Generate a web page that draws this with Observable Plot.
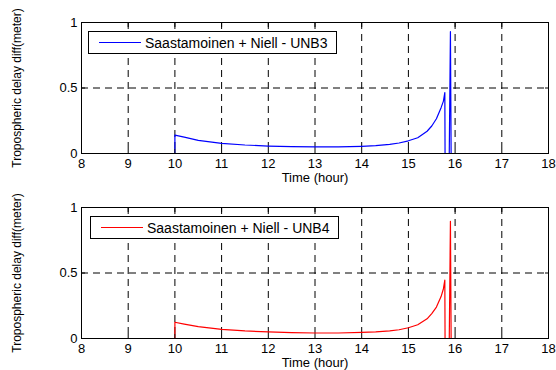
<!DOCTYPE html>
<html><head><meta charset="utf-8">
<script src="https://cdn.jsdelivr.net/npm/d3@7"></script>
<script src="https://cdn.jsdelivr.net/npm/@observablehq/plot@0.6"></script>
<style>
body{margin:0;background:#fff;font-family:"Liberation Sans",Arial,sans-serif;}
#wrap{width:556px;height:370px;position:relative;overflow:hidden;}
.panel{position:relative;width:556px;height:185px;}
.panel svg{display:block;}
.legend{position:absolute;box-sizing:border-box;border:1px solid #000;background:#fff;display:flex;align-items:center;font-size:14px;white-space:nowrap;color:#000;}
.legend .sample{display:inline-block;width:42px;height:0;border-top:1px solid;margin:0 4px 0 10px;}
</style></head><body><div id="wrap"></div>
<script>
// time in hours
const hours = [8, 10, 10, 10.2, 10.5, 11, 11.5, 12, 12.5, 13, 13.5, 14, 14.3, 14.6, 14.8, 15, 15.2, 15.4, 15.5, 15.6, 15.7, 15.75, 15.78, 15.785, 15.875, 15.9, 15.915, 18];
// tropospheric delay difference (m)
const unb3 = [0, 0, 0.14, 0.125, 0.10, 0.078, 0.065, 0.057, 0.052, 0.05, 0.05, 0.055, 0.06, 0.07, 0.08, 0.097, 0.12, 0.17, 0.21, 0.265, 0.35, 0.40, 0.465, 0, 0, 0.93, 0, 0];
const unb4 = [0, 0, 0.124, 0.11, 0.09, 0.07, 0.058, 0.05, 0.045, 0.042, 0.042, 0.046, 0.05, 0.058, 0.067, 0.082, 0.105, 0.15, 0.19, 0.24, 0.32, 0.38, 0.445, 0, 0, 0.895, 0, 0];
const seriesNames = ["Saastamoinen + Niell - UNB3", "Saastamoinen + Niell - UNB4"];
const seriesColors = ["#0000ff", "#ff0000"];
const xTicks = [8, 9, 10, 11, 12, 13, 14, 15, 16, 17, 18];
const yTicks = [0, 0.5, 1];
const xLabel = "Time (hour)";
const yLabel = "Tropospheric delay diff(meter)";

const wrap = document.getElementById("wrap");
const legendPos = [{left: 88, top: 31, width: 249, height: 23}, {left: 90, top: 31, width: 249, height: 23}];

[unb3, unb4].forEach((vals, k) => {
  const data = hours.map((t, i) => ({t, v: vals[i]}));
  const chart = Plot.plot({
    width: 556, height: 185,
    marginLeft: 81, marginRight: 8, marginTop: 22, marginBottom: 32,
    x: {domain: [8, 18]},
    y: {domain: [0, 1]},
    style: {fontFamily: "'Liberation Sans', Arial, sans-serif", fontSize: "13px", background: "white", color: "black", overflow: "visible"},
    marks: [
      Plot.gridX(xTicks, {stroke: "black", strokeOpacity: 1, strokeDasharray: "7,5"}),
      Plot.gridY([0.5], {stroke: "black", strokeOpacity: 1, strokeDasharray: "7,5"}),
      Plot.line(data, {x: "t", y: "v", stroke: seriesColors[k], strokeWidth: 1.2}),
      Plot.frame({stroke: "black"}),
      Plot.axisX(xTicks, {anchor: "bottom", tickSize: -4, tickPadding: 9, label: null, tickFormat: d => String(d)}),
      Plot.axisX(xTicks, {anchor: "top", tickSize: -4, label: null, tickFormat: () => ""}),
      Plot.axisY(yTicks, {anchor: "left", tickSize: -4, tickPadding: 8, label: null, tickFormat: d => String(d)}),
      Plot.axisY(yTicks, {anchor: "right", tickSize: -4, label: null, tickFormat: () => ""}),
      Plot.text([xLabel], {text: d => d, frameAnchor: "bottom", dy: 28, fontSize: 13}),
      Plot.text([yLabel], {text: d => d, frameAnchor: "left", textAnchor: "middle", rotate: -90, dx: -64, fontSize: 12})
    ]
  });
  const p = document.createElement("div");
  p.className = "panel";
  p.appendChild(chart);
  const lg = document.createElement("div");
  lg.className = "legend";
  const pos = legendPos[k];
  lg.style.left = pos.left + "px"; lg.style.top = pos.top + "px";
  lg.style.width = pos.width + "px"; lg.style.height = pos.height + "px";
  const s = document.createElement("span");
  s.className = "sample";
  s.style.borderTopColor = seriesColors[k];
  lg.appendChild(s);
  const tx = document.createElement("span");
  tx.textContent = seriesNames[k];
  lg.appendChild(tx);
  p.appendChild(lg);
  wrap.appendChild(p);
});
</script></body></html>
